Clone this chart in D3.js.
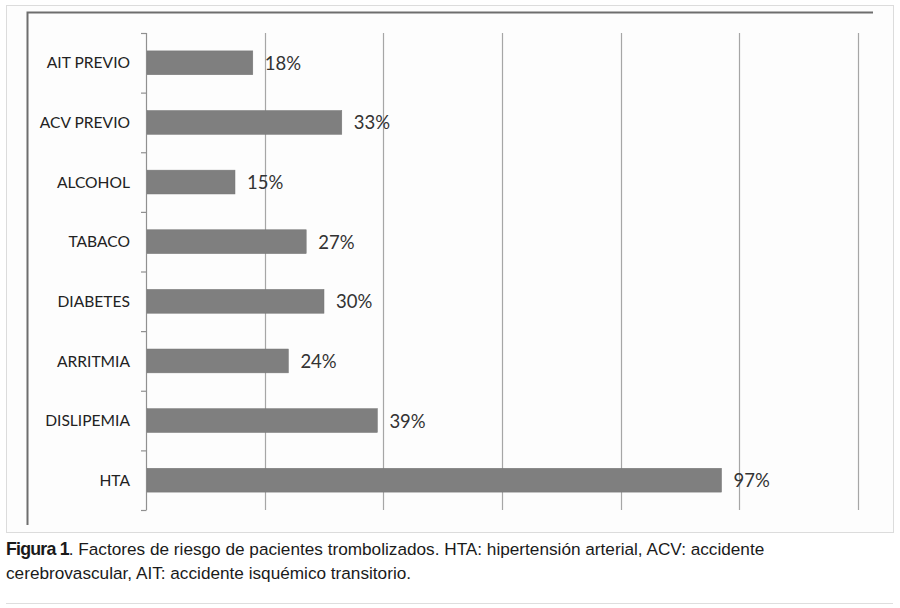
<!DOCTYPE html>
<html>
<head>
<meta charset="utf-8">
<script src="https://cdn.jsdelivr.net/npm/d3@7"></script>
<style>
  html, body { margin: 0; padding: 0; background: #fff; }
  svg { display: block; }
</style>
</head>
<body>
<svg id="chart" width="900" height="608"></svg>
<script>
const categories = ["AIT PREVIO", "ACV PREVIO", "ALCOHOL", "TABACO", "DIABETES", "ARRITMIA", "DISLIPEMIA", "HTA"];
const values = [18, 33, 15, 27, 30, 24, 39, 97];
const xTicks = [0, 20, 40, 60, 80, 100, 120];
const captionBold = "Figura 1";
const captionLine1 = ". Factores de riesgo de pacientes trombolizados. HTA: hipertensión arterial, ACV: accidente";
const captionLine2 = "cerebrovascular, AIT: accidente isquémico transitorio.";

const svg = d3.select("#chart");

// outer light frame
svg.append("rect").attr("x", 6.5).attr("y", 5.5).attr("width", 887).attr("height", 527)
  .attr("fill", "#fdfdfd").attr("stroke", "#dcdcdc").attr("stroke-width", 1);

// inner dark frame (top and left edges)
svg.append("path").attr("d", "M27.5,525 L27.5,12.5 L873,12.5")
  .attr("fill", "none").attr("stroke", "#6e6e6e").attr("stroke-width", 2);

const x = d3.scaleLinear().domain([0, 120]).range([146, 858]);
const y = d3.scaleBand().domain(categories).range([33, 510]).paddingInner(0.6).paddingOuter(0.3);
const yOuter = d3.scaleBand().domain(categories).range([33, 510]);

// gridlines
svg.append("g").selectAll("line").data(xTicks.slice(1)).join("line")
  .attr("x1", d => Math.round(x(d)) + 0.5).attr("x2", d => Math.round(x(d)) + 0.5)
  .attr("y1", 33).attr("y2", 510)
  .attr("stroke", "#a6a6a6").attr("stroke-width", 1.2);

// y axis with ticks at category boundaries
const axisG = svg.append("g");
axisG.append("line").attr("x1", 146.5).attr("x2", 146.5).attr("y1", 33).attr("y2", 510)
  .attr("stroke", "#909090").attr("stroke-width", 1.2);
const boundaries = categories.map(c => yOuter(c)).concat([510]);
axisG.selectAll("line.tick").data(boundaries).join("line").attr("class", "tick")
  .attr("x1", 141).attr("x2", 146.5).attr("y1", d => d + 0.5).attr("y2", d => d + 0.5)
  .attr("stroke", "#909090").attr("stroke-width", 1.2);

// bars
svg.append("g").selectAll("rect").data(categories).join("rect")
  .attr("x", x(0) + 1)
  .attr("y", d => y(d))
  .attr("width", (d, i) => x(values[i]) - x(0) - 1)
  .attr("height", y.bandwidth())
  .attr("fill", "#7f7f7f")
  .attr("stroke", "#777").attr("stroke-width", 0.5);

// category labels
svg.append("g").selectAll("text").data(categories).join("text")
  .attr("x", 130)
  .attr("y", d => y(d) + y.bandwidth() / 2)
  .attr("dy", "0.36em")
  .attr("text-anchor", "end")
  .attr("font-family", "Lato, 'Open Sans', sans-serif")
  .attr("font-size", 15.6)
  .attr("fill", "#222")
  .text(d => d);

// value labels
svg.append("g").selectAll("text").data(categories).join("text")
  .attr("x", (d, i) => x(values[i]) + 12)
  .attr("y", d => y(d) + y.bandwidth() / 2)
  .attr("dy", "0.38em")
  .attr("font-family", "Lato, 'Open Sans', sans-serif")
  .attr("font-size", 18.5)
  .attr("fill", "#333")
  .text((d, i) => values[i] + "%");

// caption
const cap1 = svg.append("text").attr("x", 6).attr("y", 555)
  .attr("font-family", "'Liberation Sans', Arial, sans-serif").attr("font-size", 17.2).attr("fill", "#1a1a1a");
cap1.append("tspan").attr("font-weight", "bold").attr("font-size", 17.8)
  .attr("letter-spacing", -0.8).text(captionBold);
cap1.append("tspan").attr("letter-spacing", 0).text(captionLine1);
svg.append("text").attr("x", 6).attr("y", 579)
  .attr("font-family", "'Liberation Sans', Arial, sans-serif").attr("font-size", 17.2).attr("fill", "#1a1a1a")
  .text(captionLine2);

// bottom separator
svg.append("line").attr("x1", 6).attr("x2", 893).attr("y1", 603.5).attr("y2", 603.5)
  .attr("stroke", "#dedede").attr("stroke-width", 1);
</script>
</body>
</html>
